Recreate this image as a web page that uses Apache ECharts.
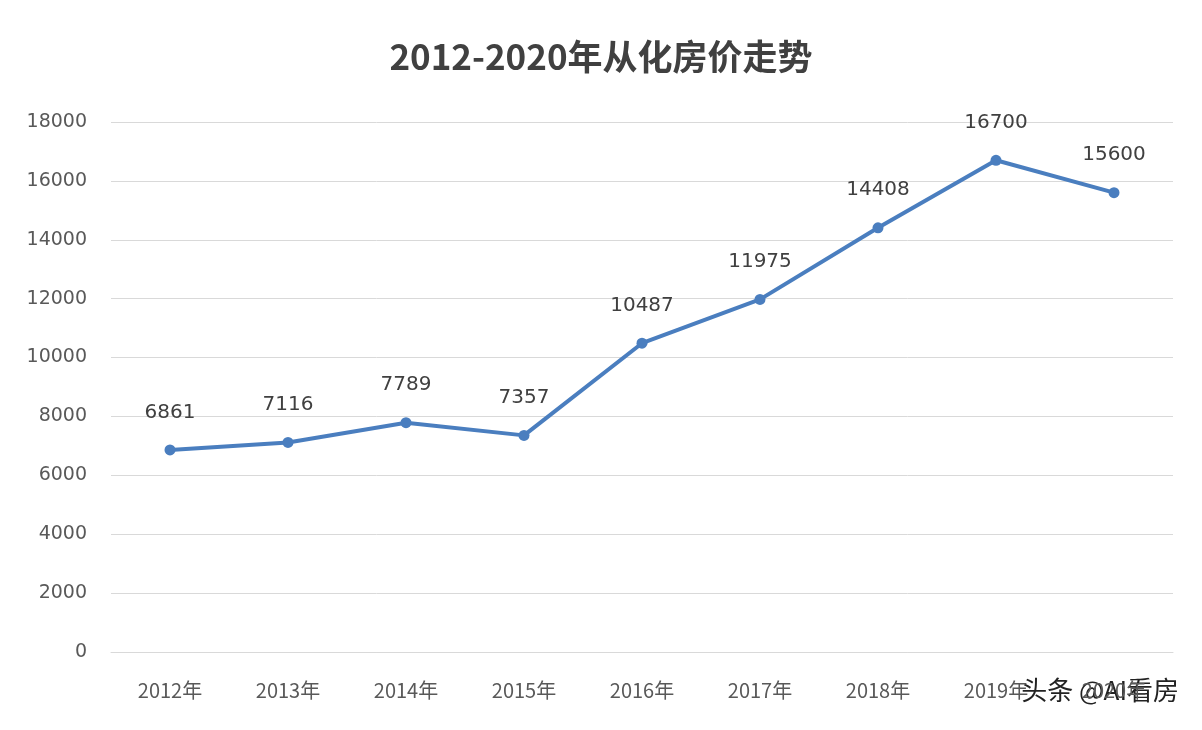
<!DOCTYPE html>
<html><head><meta charset="utf-8">
<script src="https://cdn.jsdelivr.net/npm/echarts@6/dist/echarts.min.js"></script>
<style>html,body{margin:0;padding:0;background:#fff}#c{width:1202px;height:730px}</style>
</head><body><div id="c"></div>
<script>
const categories = ['2012年','2013年','2014年','2015年','2016年','2017年','2018年','2019年','2020年'];
const prices = [6861, 7116, 7789, 7357, 10487, 11975, 14408, 16700, 15600];
const yTicks = {min: 0, max: 18000, interval: 2000};
const chart = echarts.init(document.getElementById('c'));
chart.setOption({
  backgroundColor: '#fff',
  title: {text: '2012-2020年从化房价走势', left: 'center', top: 34,
    textStyle: {fontSize: 35, fontWeight: 'bold', color: '#404040', fontFamily: 'Noto Sans CJK SC'}},
  grid: {left: 111, right: 29, top: 122, bottom: 78},
  xAxis: {type: 'category', data: categories, boundaryGap: true,
    axisLine: {lineStyle: {color: '#d9d9d9'}}, axisTick: {show: false},
    axisLabel: {color: '#595959', fontSize: 20, margin: 28, fontFamily: 'Noto Sans CJK SC'}},
  yAxis: {type: 'value', min: yTicks.min, max: yTicks.max, interval: yTicks.interval,
    axisLine: {show: false}, axisTick: {show: false},
    splitLine: {lineStyle: {color: '#d9d9d9'}},
    axisLabel: {color: '#595959', fontSize: 19, margin: 24, fontFamily: 'DejaVu Sans',
      formatter: v => String(v)}},
  series: [{type: 'line', data: prices, symbol: 'circle', symbolSize: 11,
    lineStyle: {color: '#4a7ebf', width: 4}, itemStyle: {color: '#4a7ebf'},
    label: {show: true, position: 'top', distance: 22, fontSize: 20, color: '#404040', fontFamily: 'DejaVu Sans'}}],
  graphic: [{type: 'text', right: 22, top: 676,
    style: {text: '头条 @AI看房', fontSize: 26, fill: '#222', fontFamily: 'Noto Sans CJK SC',
      stroke: '#fff', lineWidth: 2}}]
});
</script></body></html>
